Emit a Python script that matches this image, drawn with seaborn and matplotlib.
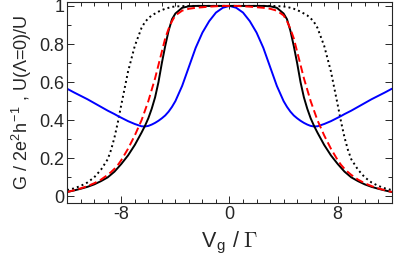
import numpy as np
import pandas as pd
import matplotlib
matplotlib.use("Agg")
import matplotlib.pyplot as plt
import seaborn as sns

# half grid (V_g / Gamma >= 0); curves are symmetric in V_g
vg_half = [0, 0.5, 1, 1.5, 2, 2.5, 3, 3.5, 4, 4.25, 4.5, 4.75, 5, 5.25, 5.5, 5.75,
           6, 6.25, 6.5, 7, 7.5, 8, 8.25, 8.5, 8.75, 9, 9.5, 10, 10.5, 11, 11.5, 12]

g_solid = [1, 1, 1, 1, 1, 1, 0.998, 0.99, 0.96, 0.93, 0.87, 0.79, 0.70, 0.60, 0.52, 0.46,
           0.41, 0.37, 0.335, 0.27, 0.215, 0.17, 0.15, 0.13, 0.115, 0.10, 0.08, 0.063, 0.05, 0.04, 0.031, 0.023]

g_dashed = [1, 1, 0.998, 0.996, 0.993, 0.99, 0.985, 0.975, 0.95, 0.92, 0.88, 0.83, 0.76, 0.69, 0.62, 0.56,
            0.50, 0.45, 0.40, 0.32, 0.25, 0.19, 0.165, 0.145, 0.128, 0.113, 0.088, 0.069, 0.054, 0.042, 0.032, 0.023]

g_dotted = [1, 1, 1, 1, 1, 1, 1, 0.999, 0.997, 0.995, 0.99, 0.985, 0.978, 0.97, 0.96, 0.95,
            0.935, 0.915, 0.885, 0.79, 0.655, 0.48, 0.39, 0.31, 0.245, 0.195, 0.14, 0.10, 0.073, 0.055, 0.042, 0.033]

u_ratio = [1, 0.99, 0.965, 0.92, 0.86, 0.78, 0.68, 0.58, 0.50, 0.47, 0.445, 0.425, 0.41, 0.397, 0.386, 0.377,
           0.37, 0.367, 0.368, 0.38, 0.395, 0.413, 0.422, 0.432, 0.441, 0.45, 0.47, 0.49, 0.51, 0.528, 0.546, 0.565]


def mirror(x, y):
    x = np.asarray(x, dtype=float)
    y = np.asarray(y, dtype=float)
    return np.concatenate([-x[::-1], x[1:]]), np.concatenate([y[::-1], y[1:]])


sns.set_style("ticks")
plt.rcParams.update({
    "font.family": ["Liberation Sans", "DejaVu Sans"],
    "mathtext.fontset": "cm",
    "axes.unicode_minus": False,
    "axes.linewidth": 0.8,
    "xtick.direction": "in",
    "ytick.direction": "in",
    "xtick.top": True,
    "ytick.right": True,
    "xtick.major.size": 5,
    "ytick.major.size": 5,
    "xtick.minor.size": 2.6,
    "ytick.minor.size": 2.6,
    "xtick.major.width": 0.7,
    "ytick.major.width": 0.7,
    "xtick.minor.width": 0.7,
    "ytick.minor.width": 0.7,
    "xtick.labelsize": 13,
    "ytick.labelsize": 13,
})

fig, ax = plt.subplots(figsize=(3.95, 2.62), dpi=100)
fig.subplots_adjust(left=0.170, right=0.992, top=0.992, bottom=0.225)

curves = [
    (g_dotted, dict(color="black", linestyle=(0, (1, 1.6)), linewidth=1.4)),
    (u_ratio, dict(color="#0000ff", linestyle="-", linewidth=1.4)),
    (g_solid, dict(color="black", linestyle="-", linewidth=1.4)),
    (g_dashed, dict(color="#ff0000", linestyle=(0, (4, 2)), linewidth=1.4)),
]
for vals, style in curves:
    xs, ys = mirror(vg_half, vals)
    df = pd.DataFrame({"Vg": xs, "G": ys})
    sns.lineplot(data=df, x="Vg", y="G", ax=ax, sort=False, **style)

ax.set_xlim(-12, 12)
ax.set_ylim(-0.035, 1.02)
ax.set_xticks([-8, 0, 8])
ax.set_xticks(np.arange(-12, 13, 1), minor=True)
ax.set_yticks([0, 0.2, 0.4, 0.6, 0.8, 1.0])
ax.set_yticklabels(["0", "0.2", "0.4", "0.6", "0.8", "1"])
ax.set_yticks(np.arange(0, 1.01, 0.1), minor=True)
ax.tick_params(which="both", top=True, right=True, pad=2)

ax.set_xlabel(r"V$_{\mathregular{g}}$ / $\Gamma$", fontsize=15.5, labelpad=5)
ax.set_ylabel(r"G / 2e$^{\mathregular{2}}$h$^{\mathregular{-1}}$ , U($\mathregular{\Lambda}$=0)/U",
              fontsize=13, labelpad=4)

fig.savefig("out.png", dpi=100)
